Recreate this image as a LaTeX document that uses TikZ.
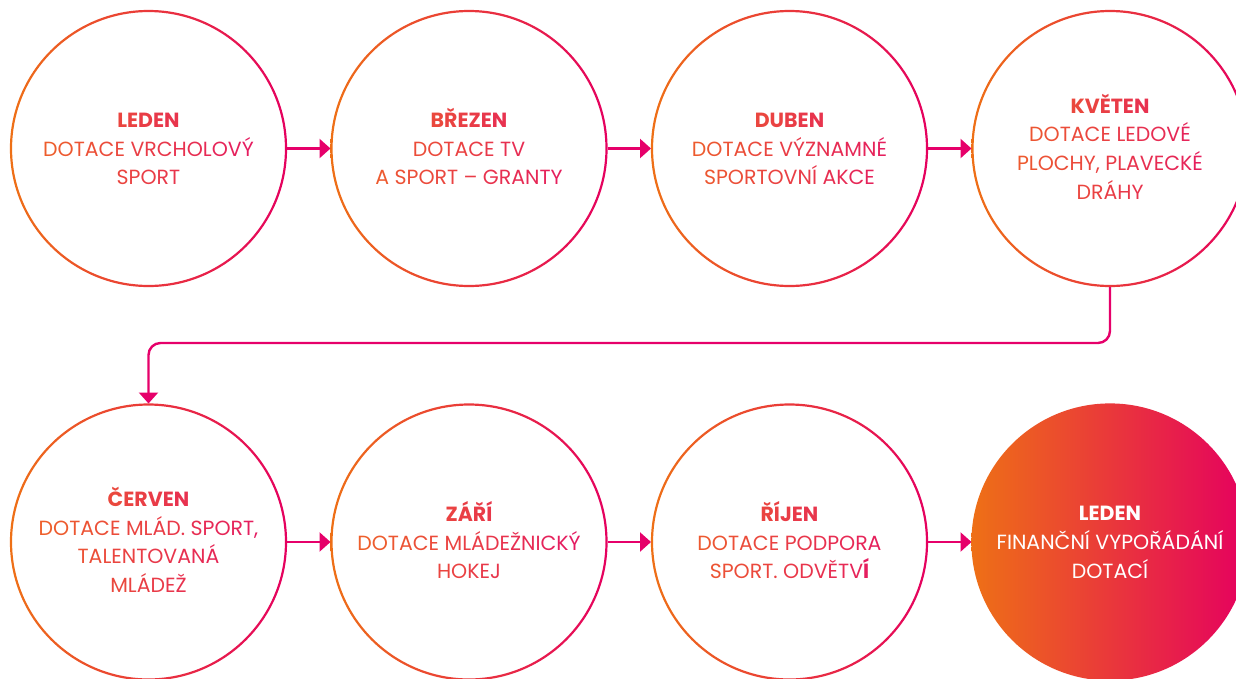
\documentclass[tikz,border=0pt]{standalone}
\usepackage{fontspec}
\setmainfont{Poppins}
\usetikzlibrary{arrows.meta,calc}
\definecolor{cor}{HTML}{EE7016}
\definecolor{cpk}{HTML}{E5005F}
\definecolor{tor}{HTML}{EF6A22}
\definecolor{tpk}{HTML}{E3106A}
\definecolor{carr}{HTML}{E6006A}
\definecolor{chead}{HTML}{E8404A}
\definecolor{cbody}{HTML}{EB5340}
\ExplSyntaxOn
\dim_new:N \l_gl_w_dim
\int_new:N \l_gl_n_int
\int_new:N \l_gl_i_int
\box_new:N \l_gl_box
\NewDocumentCommand\gl{m}{
  \hbox_set:Nn \l_gl_box {#1}
  \dim_set:Nn \l_gl_w_dim {\box_wd:N \l_gl_box}
  \int_set:Nn \l_gl_n_int {\str_count:n {#1}}
  \int_zero:N \l_gl_i_int
  \str_map_inline:nn {#1}
    {
      \int_incr:N \l_gl_i_int
      \textcolor{tor!\fp_eval:n{ max(0, min(100, round(100*(0.5 - ((\l_gl_i_int - 0.5)/\l_gl_n_int - 0.5) * \dim_to_fp:n{\l_gl_w_dim}/276), 0))) }!tpk}{{}##1}
    }
}
\ExplSyntaxOff
\tikzset{
  stage/.style={circle, minimum size=277pt, inner sep=0pt, outer sep=0pt,
    align=center, text=cbody, font=\fontsize{20.5}{28.6}\selectfont,
    execute at end node={\rule[-4pt]{0pt}{4pt}}},
  conn/.style={draw=carr, line width=2.4pt, -{Triangle[length=11pt,width=19pt]}},
}
\newcommand\stagering[1]{\shade[left color=cor, right color=cpk, even odd rule] (#1) circle (138.6) circle (136.4);}
\newcommand\hd[1]{\vphantom{ŘÍ}{\bfseries\gl{#1}}}
\begin{document}
\begin{tikzpicture}[x=1pt,y=-1pt]
\useasboundingbox (0,0) rectangle (1236,678);
% row 1
\node[stage] (c1) at (148.5,148.5) {\hd{LEDEN}\\\gl{DOTACE VRCHOLOVÝ}\\\gl{SPORT}};
\node[stage] (c2) at (469,148.5) {\hd{BŘEZEN}\\\gl{DOTACE TV}\\\gl{A SPORT – GRANTY}};
\node[stage] (c3) at (789.5,148.5) {\hd{DUBEN}\\\gl{DOTACE VÝZNAMNÉ}\\\gl{SPORTOVNÍ AKCE}};
\node[stage] (c4) at (1110,148.5) {\hd{KVĚTEN}\\\gl{DOTACE LEDOVÉ}\\\gl{PLOCHY, PLAVECKÉ}\\\gl{DRÁHY}};
% row 2
\node[stage] (c5) at (148.5,542) {\hd{ČERVEN}\\\gl{DOTACE MLÁD. SPORT,}\\\gl{TALENTOVANÁ}\\\gl{MLÁDEŽ}};
\node[stage] (c6) at (469,542) {\hd{ZÁŘÍ}\\\gl{DOTACE MLÁDEŽNICKÝ}\\\gl{HOKEJ}};
\node[stage] (c7) at (789.5,542) {\hd{ŘÍJEN}\\\gl{DOTACE PODPORA}\\\gl{SPORT. ODVĚTV}\textbf{\textcolor{tpk!85!tor}{Í}}};
\shade[left color=cor, right color=cpk] (1110,542) circle (138.6);
\node[stage, text=white] (c8) at (1110,542) {\vphantom{ŘÍ}\textbf{LEDEN}\\FINANČNÍ VYPOŘÁDÁNÍ\\DOTACÍ};
% rings
\stagering{c1}\stagering{c2}\stagering{c3}\stagering{c4}
\stagering{c5}\stagering{c6}\stagering{c7}
% connectors
\draw[conn] (c1.east) -- (c2.west);
\draw[conn] (c2.east) -- (c3.west);
\draw[conn] (c3.east) -- (c4.west);
\coordinate (mid) at (600,343);
\draw[conn, rounded corners=12pt] (c4.south) |- (mid) -| (c5.north);
\draw[conn] (c5.east) -- (c6.west);
\draw[conn] (c6.east) -- (c7.west);
\draw[conn] (c7.east) -- (c8.west);
\end{tikzpicture}
\end{document}
